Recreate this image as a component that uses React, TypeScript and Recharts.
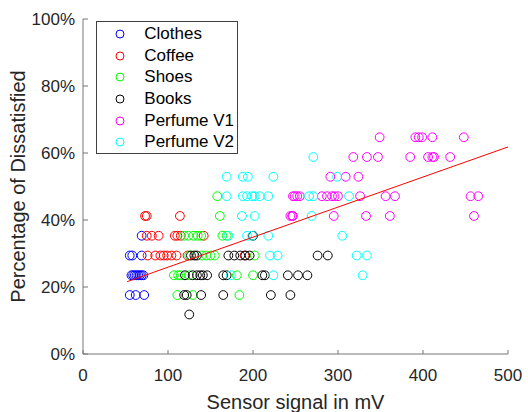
import React from 'react';
import { ScatterChart, Scatter, XAxis, YAxis, Legend } from 'recharts';

type Pt = [number, number];

// [sensor signal mV, % dissatisfied]
const clothes: Pt[] = [
  [55, 17.6], [62, 17.6], [72, 17.6],
  [57, 23.5], [59, 23.5], [61, 23.5], [63, 23.5], [65, 23.5], [67, 23.5], [69, 23.5], [71, 23.5],
  [55, 29.4], [58, 29.4], [69, 29.4],
  [69, 35.3],
];

const coffee: Pt[] = [
  [76, 29.4], [85, 29.4], [91, 29.4], [95, 29.4], [99, 29.4], [104, 29.4], [110, 29.4], [123, 29.4], [190, 29.4],
  [75, 35.3], [81, 35.3], [89, 35.3], [108, 35.3], [111, 35.3], [115, 35.3], [142, 35.3],
  [73, 41.2], [75, 41.2], [114, 41.2],
];

const shoes: Pt[] = [
  [111, 17.6], [129, 17.6], [184, 17.6],
  [107, 23.5], [112, 23.5], [115, 23.5], [125, 23.5], [181, 23.5], [200, 23.5],
  [125, 29.4], [140, 29.4], [145, 29.4], [150, 29.4], [155, 29.4], [202, 29.4],
  [119, 35.3], [124, 35.3], [130, 35.3], [135, 35.3], [139, 35.3], [164, 35.3], [169, 35.3],
  [161, 41.2],
  [158, 47.1],
];

const books: Pt[] = [
  [125, 11.8],
  [119, 17.6], [122, 17.6], [139, 17.6], [165, 17.6], [221, 17.6], [244, 17.6],
  [120, 23.5], [129, 23.5], [134, 23.5], [138, 23.5], [141, 23.5], [146, 23.5], [165, 23.5], [169, 23.5],
  [211, 23.5], [214, 23.5], [241, 23.5], [253, 23.5], [264, 23.5],
  [127, 29.4], [131, 29.4], [134, 29.4], [171, 29.4], [178, 29.4], [185, 29.4], [191, 29.4], [196, 29.4],
  [276, 29.4], [288, 29.4],
  [200, 35.3],
];

const perfumeV1: Pt[] = [
  [244, 41.2], [246, 41.2], [247, 41.2], [295, 41.2], [333, 41.2], [361, 41.2], [460, 41.2],
  [247, 47.1], [249, 47.1], [252, 47.1], [255, 47.1], [281, 47.1], [287, 47.1], [293, 47.1], [296, 47.1],
  [300, 47.1], [326, 47.1], [356, 47.1], [367, 47.1], [456, 47.1], [465, 47.1],
  [291, 52.9], [309, 52.9], [324, 52.9],
  [318, 58.8], [334, 58.8], [347, 58.8], [385, 58.8], [406, 58.8], [411, 58.8], [413, 58.8], [432, 58.8],
  [349, 64.7], [391, 64.7], [395, 64.7], [399, 64.7], [411, 64.7], [448, 64.7],
];

const perfumeV2: Pt[] = [
  [174, 23.5], [224, 23.5], [329, 23.5],
  [220, 29.4], [229, 29.4], [322, 29.4], [334, 29.4],
  [171, 35.3], [193, 35.3], [199, 35.3], [218, 35.3], [305, 35.3],
  [187, 41.2], [202, 41.2], [269, 41.2],
  [169, 47.1], [188, 47.1], [193, 47.1], [199, 47.1], [202, 47.1], [208, 47.1], [218, 47.1],
  [266, 47.1], [271, 47.1], [313, 47.1],
  [169, 52.9], [188, 52.9], [194, 52.9], [224, 52.9], [299, 52.9],
  [271, 58.8],
];

// fitted trend line end points
const trend: Pt[] = [[52, 21.6], [500, 61.8]];

const xTicks = [0, 100, 200, 300, 400, 500];
const yTicks = [0, 20, 40, 60, 80, 100];

const SERIES = [
  { name: 'Clothes', color: '#0000ff', points: clothes },
  { name: 'Coffee', color: '#ff0000', points: coffee },
  { name: 'Shoes', color: '#00ff00', points: shoes },
  { name: 'Books', color: '#000000', points: books },
  { name: 'Perfume V1', color: '#ff00ff', points: perfumeV1 },
  { name: 'Perfume V2', color: '#00ffff', points: perfumeV2 },
];

const FONT = '"Liberation Sans", Arial, sans-serif';
const TEXT = '#262626';
const AXIS = '#777777';

const toRows = (pts: Pt[]) => pts.map(([x, y]) => ({ x, y }));

const ring = (color: string) => (props: any) => (
  <circle cx={props.cx} cy={props.cy} r={4.4} fill="none" stroke={color} strokeWidth={1} />
);

const LegendBox = () => (
  <div
    style={{
      width: 142,
      height: 133,
      boxSizing: 'border-box',
      border: '1px solid #404040',
      background: '#fff',
      paddingTop: 1,
      fontFamily: FONT,
      fontSize: 17,
      color: '#000',
    }}
  >
    {SERIES.map((s) => (
      <div key={s.name} style={{ position: 'relative', height: 21.7, lineHeight: '21.7px' }}>
        <svg width={12} height={12} style={{ position: 'absolute', left: 16.6, top: 4.85 }}>
          <circle cx={6} cy={6} r={4} fill="none" stroke={s.color} strokeWidth={1} />
        </svg>
        <span style={{ position: 'absolute', left: 47.3, top: 0, whiteSpace: 'nowrap' }}>{s.name}</span>
      </div>
    ))}
  </div>
);

const YLabel = (props: any) => {
  const vb = props.viewBox || { x: 0, y: 19, width: 83, height: 335 };
  const cx = vb.x + 25;
  const cy = vb.y + vb.height / 2;
  return (
    <text
      x={cx}
      y={cy}
      transform={`rotate(-90 ${cx} ${cy})`}
      textAnchor="middle"
      fontSize={20}
      fill={TEXT}
      fontFamily={FONT}
    >
      Percentage of Dissatisfied
    </text>
  );
};

export default function App() {
  return (
    <div style={{ position: 'absolute', left: 0, top: 0, background: '#fff' }}>
      <ScatterChart
        width={528}
        height={412}
        margin={{ top: 19, right: 20, bottom: 0, left: 0 }}
        style={{ fontFamily: FONT }}
      >
        <XAxis
          type="number"
          dataKey="x"
          domain={[0, 500]}
          ticks={xTicks}
          height={58}
          stroke={AXIS}
          tickSize={-4}
          tickMargin={19}
          tick={{ fill: TEXT, fontSize: 17 }}
          label={{ value: 'Sensor signal in mV', position: 'insideBottom', offset: 3, fontSize: 20, fill: TEXT }}
        />
        <YAxis
          type="number"
          dataKey="y"
          domain={[0, 100]}
          ticks={yTicks}
          tickFormatter={(v: number) => `${v}%`}
          width={83}
          stroke={AXIS}
          tickSize={-5}
          tickMargin={13}
          tick={{ fill: TEXT, fontSize: 17 }}
          label={{ content: YLabel }}
        />
        {SERIES.map((s) => (
          <Scatter
            key={s.name}
            name={s.name}
            data={toRows(s.points)}
            shape={ring(s.color)}
            isAnimationActive={false}
          />
        ))}
        <Scatter
          name="trend"
          data={toRows(trend)}
          line={{ stroke: '#ff0000', strokeWidth: 1 }}
          shape={() => <g />}
          legendType="none"
          isAnimationActive={false}
        />
        <Legend
          layout="vertical"
          verticalAlign="middle"
          align="center"
          content={() => <LegendBox />}
          wrapperStyle={{ left: 96, top: 21, width: 142, height: 133 }}
        />
      </ScatterChart>
    </div>
  );
}
